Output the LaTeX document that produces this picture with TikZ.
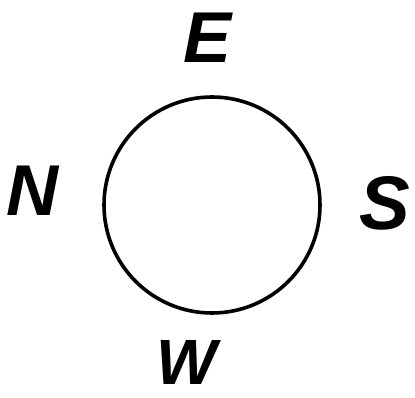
\documentclass[tikz,border=0pt]{standalone}
\usepackage{fontspec}
\setmainfont{Liberation Sans}
\usepackage{tikz}
\usetikzlibrary{positioning}
\tikzset{
    ringbox/.style={circle, draw=black, line width=3.6pt, minimum size=216pt, inner sep=0pt},
    letterbox/.style={font=\fontsize{72}{72}\selectfont\bfseries\itshape, inner sep=0pt},
}

\begin{document}
\begin{tikzpicture}[x=1pt,y=-1pt]
\useasboundingbox (0,0) rectangle (415,398);
\node[ringbox] (ring) at (212,205) {};
\node[letterbox] (east) at (208,38) {E};
\node[letterbox] (north) at (32,191) {N};
\node[letterbox,font=\fontsize{76}{76}\selectfont\bfseries\itshape] (south) at (385,203) {S};
\node[letterbox,font=\fontsize{64}{64}\selectfont\bfseries\itshape] (west) at (187,362) {W};
\end{tikzpicture}
\end{document}
